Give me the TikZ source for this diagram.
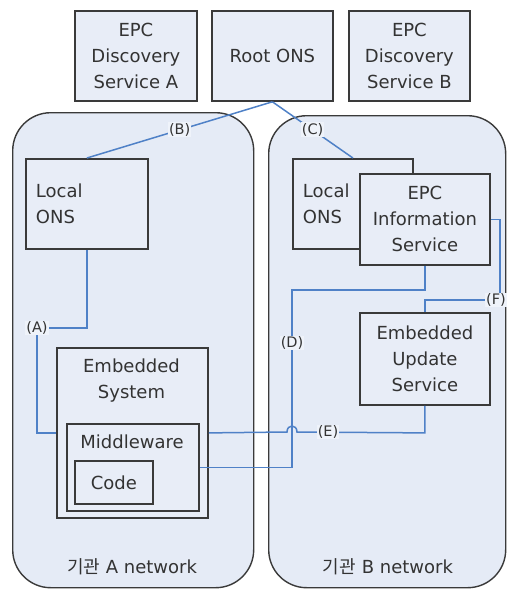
\documentclass[tikz,border=0pt]{standalone}
\usepackage{fontspec}
\setmainfont{DejaVu Sans}
\newfontfamily\krfont{Noto Sans CJK KR}
\usetikzlibrary{shadows}
\definecolor{netfill}{HTML}{E5EBF6}
\definecolor{boxfill}{HTML}{E8EDF7}
\definecolor{edgec}{HTML}{3A3A3A}
\definecolor{linkc}{HTML}{4F81C7}
\definecolor{ink}{HTML}{333333}
\begin{document}
\begin{tikzpicture}[x=1pt,y=-1pt,
  every node/.style={text=ink},
  net/.style={draw=edgec, line width=1.4pt, fill=netfill, rounded corners=38pt, inner sep=0pt, anchor=north west},
  box/.style={draw=edgec, line width=1.8pt, fill=boxfill, anchor=north west,
    general shadow={fill=edgec!60, shadow xshift=1.5pt, shadow yshift=-1.5pt},
    inner sep=0pt, font=\fontsize{18}{26}\selectfont, align=center},
  lbl/.style={font=\fontsize{18}{26}\selectfont, align=center, inner sep=0pt},
  link/.style={draw=linkc, line width=1.5pt},
  tag/.style={fill=netfill!60!white, inner sep=1pt, font=\fontsize{14.5}{16}\selectfont},
]
\useasboundingbox (0,0) rectangle (507,590);
% networks
\node[net, minimum width=241pt, minimum height=475pt] (netA) at (12,112) {};
\node[net, minimum width=237pt, minimum height=472pt] (netB) at (268,115) {};
\node[lbl] (netAT) at (132,567) {{\krfont 기관} A network};
\node[lbl] (netBT) at (388,567) {{\krfont 기관} B network};
% top boxes
\node[box, minimum width=122pt, minimum height=90pt] (dsa) at (74,10) {EPC\\Discovery\\Service A};
\node[box, minimum width=121pt, minimum height=90pt] (root) at (211,10) {Root ONS};
\node[box, minimum width=121pt, minimum height=90pt] (dsb) at (348,10) {EPC\\Discovery\\Service B};
% connector bend points
\coordinate (aA) at (37,328);
\coordinate (d1) at (292,290);
\coordinate (e1) at (287,432);
\coordinate (e2) at (297,432);
\coordinate (f1) at (500,300);
% boxes in the networks
\node[box, minimum width=122pt, minimum height=90pt, align=left, text width=102pt, inner xsep=10pt] (lonsA) at (25,158) {Local\\ONS};
\node[box, minimum width=120pt, minimum height=90pt, align=left, text width=100pt, inner xsep=10pt] (lonsB) at (292,158) {Local\\ONS};
\node[box, minimum width=130pt, minimum height=91pt] (epcis) at (359,173) {EPC\\Information\\Service};
\node[box, minimum width=130pt, minimum height=92pt] (eus) at (359,312) {Embedded\\Update\\Service};
\node[box, minimum width=151pt, minimum height=170pt] (esys) at (56,347) {};
\node[lbl] (esysT) at (131.5,381) {Embedded\\System};
\node[box, minimum width=132pt, minimum height=87pt] (mw) at (66,423) {};
\node[lbl] (mwT) at (132,442) {Middleware};
\node[box, minimum width=78pt, minimum height=43pt] (code) at (74,460) {Code};
% connectors
\draw[link] (root.south) -- node[tag, pos=0.5] {(B)} (lonsA.north);
\draw[link] (root.south) -- node[tag, pos=0.5] {(C)} (lonsB.north);
\draw[link] (lonsA.south) |- (aA);
\draw[link] (aA) |- (esys.west);
\draw[link] (epcis.south) |- (d1) |- (mw.east);
\draw[link] (esys.east) -- (e1) .. controls (287,424) and (297,424) .. (e2) -- (eus.south |- esys.east) -- (eus.south);
\draw[link] (epcis.east) -| (f1) -| (eus.north);
\node[tag] (tagA) at (aA) {(A)};
\node[tag] (tagD) at (292,343) {(D)};
\node[tag] (tagE) at (328,432) {(E)};
\node[tag, anchor=east] (tagF) at (507,300) {(F)};
\end{tikzpicture}
\end{document}
